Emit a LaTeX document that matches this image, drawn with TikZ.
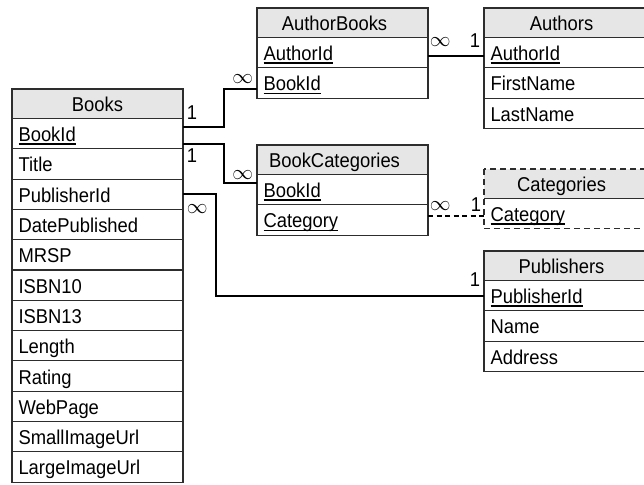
\documentclass[tikz,border=0pt]{standalone}
\usepackage{fontspec}
\setmainfont{Liberation Sans}[FakeStretch=0.92]
\usetikzlibrary{positioning,calc}
\definecolor{tblline}{RGB}{45,45,45}
\definecolor{tblfill}{RGB}{230,230,230}
\newcommand{\pk}[1]{\setbox0\hbox{#1}\rlap{\rule[-3pt]{\wd0}{1.3pt}}\box0}
\tikzset{
  tblbase/.style={line width=1.1pt, outer sep=0pt, inner xsep=6.5pt, inner ysep=0pt, text depth=7pt, font=\fontsize{20pt}{24pt}\selectfont},
  tblhead/.style={tblbase, draw=tblline, fill=tblfill, text height=22.5pt, minimum width=171pt, minimum height=29.5pt, anchor=north west, execute at begin node={\hspace*{#1}}},
  tblhead/.default=0pt,
  tblrow/.style={tblbase, draw=tblline, text height=23pt, text width=158pt, align=left, minimum height=30.3pt},
  rel/.style={line width=1.8pt},
  reldash/.style={rel, dash pattern=on 5pt off 3.5pt},
  lbl/.style={font=\fontsize{20pt}{24pt}\selectfont, inner xsep=3pt, inner ysep=#1},
  lbl/.default=3pt
}

\begin{document}
\begin{tikzpicture}[x=1pt, y=-1pt]
    \useasboundingbox (0,0) rectangle (644,484);
    \clip (0,0) rectangle (644,484);
    % books
    \node[tblhead] (books-h) at (12,89) {Books};
    \node[tblrow, below=0pt of books-h] (books-1) {\pk{BookId}};
    \foreach \fld [count=\i from 2, remember=\i as \j (initially 1)] in {Title, PublisherId, DatePublished, MRSP, ISBN10, ISBN13, Length, Rating, WebPage, SmallImageUrl, LargeImageUrl}
      \node[tblrow, below=0pt of books-\j] (books-\i) {\fld};
    % author books
    \node[tblhead=-16pt] (ab-h) at (257,8) {AuthorBooks};
    \node[tblrow, below=0pt of ab-h] (ab-1) {\pk{AuthorId}};
    \node[tblrow, below=0pt of ab-1] (ab-2) {\pk{BookId}};
    % book categories
    \node[tblhead=-16pt] (bc-h) at (257,145) {BookCategories};
    \node[tblrow, below=0pt of bc-h] (bc-1) {\pk{BookId}};
    \node[tblrow, below=0pt of bc-1] (bc-2) {\pk{Category}};
    % authors
    \node[tblhead=-16pt] (au-h) at (484,8) {Authors};
    \node[tblrow, below=0pt of au-h] (au-1) {\pk{AuthorId}};
    \node[tblrow, below=0pt of au-1] (au-2) {FirstName};
    \node[tblrow, below=0pt of au-2] (au-3) {LastName};
    % categories (dashed)
    \node[tblhead=-16pt, draw=none] (cat-h) at (484,169) {Categories};
    \node[tblrow, draw=none, below=0pt of cat-h] (cat-1) {\pk{Category}};
    \draw[line width=1.1pt, tblline] (cat-h.south west) -- (cat-h.south east);
    \draw[line width=1.1pt, tblline, dash pattern=on 6pt off 4pt] (cat-h.north west) rectangle (cat-1.south east);
    % publishers
    \node[tblhead=-16pt] (pub-h) at (484,251) {Publishers};
    \node[tblrow, below=0pt of pub-h] (pub-1) {\pk{PublisherId}};
    \node[tblrow, below=0pt of pub-1] (pub-2) {Name};
    \node[tblrow, below=0pt of pub-2] (pub-3) {Address};
    % relations
    \draw[rel] ($(books-1.east)+(0,-7)$) node[lbl=6pt, above right] (m1a) {1}
      -- ++(41,0) |- ($(ab-2.west)+(0,6)$) node[lbl=5pt, above left] (m1b) {$\infty$};
    \draw[rel] ($(books-1.east)+(0,10)$) node[lbl=4pt, below right] (m2a) {1}
      -- ++(41,0) |- ($(bc-1.west)+(0,-7)$) node[lbl=2pt, above left] (m2b) {$\infty$};
    \draw[rel] (books-3.east) node[lbl=9pt, below right] (m3a) {$\infty$}
      -- ++(33,0) |- (pub-1.west) node[lbl=8pt, above left] (m3b) {1};
    \draw[rel] ($(ab-1.east)+(0,3)$) coordinate (c4) node[lbl=8pt, above right, inner xsep=1pt] (m4a) {$\infty$}
      -- (c4 -| au-1.west) node[lbl=7pt, above left] (m4b) {1};
    \draw[reldash] ($(bc-2.east)+(0,-4)$) coordinate (c5) node[lbl=4.5pt, above right, inner xsep=1pt] (m5a) {$\infty$}
      -- (c5 -| cat-1.west) node[lbl=3.5pt, above left, inner xsep=2pt] (m5b) {1};
\end{tikzpicture}
\end{document}
